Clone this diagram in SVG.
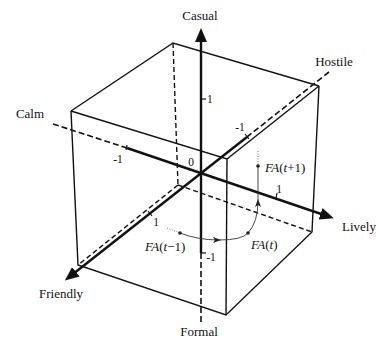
<svg xmlns="http://www.w3.org/2000/svg" width="379" height="340" viewBox="0 0 379 340" font-family="'Liberation Serif', 'DejaVu Serif', serif">
<defs>
<marker id="big" markerUnits="userSpaceOnUse" markerWidth="16" markerHeight="14" refX="10" refY="6" orient="auto">
<path d="M0,0 L14,6 L0,12 z" fill="#111"/>
</marker>
<marker id="small" markerUnits="userSpaceOnUse" markerWidth="10" markerHeight="8" refX="6" refY="3" orient="auto">
<path d="M0,0 L8,3 L0,6 L2,3 z" fill="#222"/>
</marker>
</defs>
<style>
.edge{stroke:#111;stroke-width:1.4;fill:none}
.hid{stroke:#111;stroke-width:1.4;fill:none;stroke-dasharray:5,3}
.axis{stroke:#111;stroke-width:2.4;fill:none}
.adash{stroke:#111;stroke-width:1.6;fill:none;stroke-dasharray:6,3}
.tick{stroke:#111;stroke-width:1.2}
.thin{stroke:#333;stroke-width:0.9;fill:none}
.dot{stroke:#555;stroke-width:0.8;stroke-dasharray:1,1.5;fill:none}
text{font-family:"Liberation Serif","DejaVu Serif",serif;font-size:13px;fill:#111}
.num{font-size:11.5px}
.it{font-style:italic}
</style>
<rect width="379" height="340" fill="#fff"/>
<g id="connectors">
<path class="edge" d="M71,111 L173,43 L319,86"/>
<path class="edge" d="M71,111 L227,159 L319,86"/>
<path class="edge" d="M71,111 L78,265 L226,315 L312,232 L319,86"/>
<path class="edge" d="M227,159 L226,315"/>
<path class="hid" d="M173,43 L178,185"/>
<path class="hid" d="M178,185 L312,232"/>
<path class="hid" d="M178,185 L78,265"/>
<path class="axis" d="M201,253 L201,32" marker-end="url(#big)"/>
<path class="adash" d="M201,253 L201,322"/>
<path class="adash" d="M53,124 L127,148"/>
<path class="axis" d="M127,148 L330,217" marker-end="url(#big)"/>
<path class="adash" d="M329,72 L247,137"/>
<path class="axis" d="M247,137 L68,278" marker-end="url(#big)"/>
<path class="tick" d="M201,99 L206,99"/>
<path class="tick" d="M201,253 L206,253"/>
<path class="tick" d="M245,134 L249,139"/>
<path class="tick" d="M127,145 L126,150"/>
<path class="tick" d="M277,193 L276,198"/>
<path class="tick" d="M148,211 L152,216"/>
<path class="dot" d="M167,228 L180,233"/>
<path class="thin" d="M180,233 Q198,240 219,240" marker-end="url(#small)"/>
<path class="thin" d="M219,240 Q242,240 248,233 Q258,222 258,201" marker-end="url(#small)"/>
<path class="thin" d="M258,201 L258,167"/>
<path class="dot" d="M258,167 L258,151"/>
</g>
<g id="points">
<circle cx="180" cy="233" r="1.8" fill="#222"/>
<circle cx="248" cy="233" r="1.8" fill="#222"/>
<circle cx="258" cy="166" r="1.8" fill="#222"/>
</g>
<g id="labels">
<text x="200" y="20" text-anchor="middle">Casual</text>
<text x="334" y="66" text-anchor="middle">Hostile</text>
<text x="30" y="118" text-anchor="middle">Calm</text>
<text x="359" y="231" text-anchor="middle">Lively</text>
<text x="61" y="298" text-anchor="middle">Friendly</text>
<text x="199" y="336" text-anchor="middle">Formal</text>
</g>
<g id="numbers">
<text class="num" x="207" y="103">1</text>
<text class="num" x="191" y="166" text-anchor="middle">0</text>
<text class="num" x="240" y="131" text-anchor="middle">-1</text>
<text class="num" x="118" y="163" text-anchor="middle">-1</text>
<text class="num" x="279" y="193" text-anchor="middle">1</text>
<text class="num" x="156" y="226" text-anchor="middle">1</text>
<text class="num" x="211" y="261" text-anchor="middle">-1</text>
</g>
<g id="fa-labels">
<text x="265" y="172"><tspan class="it">FA</tspan>(<tspan class="it">t</tspan>+1)</text>
<text x="145" y="251"><tspan class="it">FA</tspan>(<tspan class="it">t</tspan>−1)</text>
<text x="251" y="249"><tspan class="it">FA</tspan>(<tspan class="it">t</tspan>)</text>
</g>
</svg>
